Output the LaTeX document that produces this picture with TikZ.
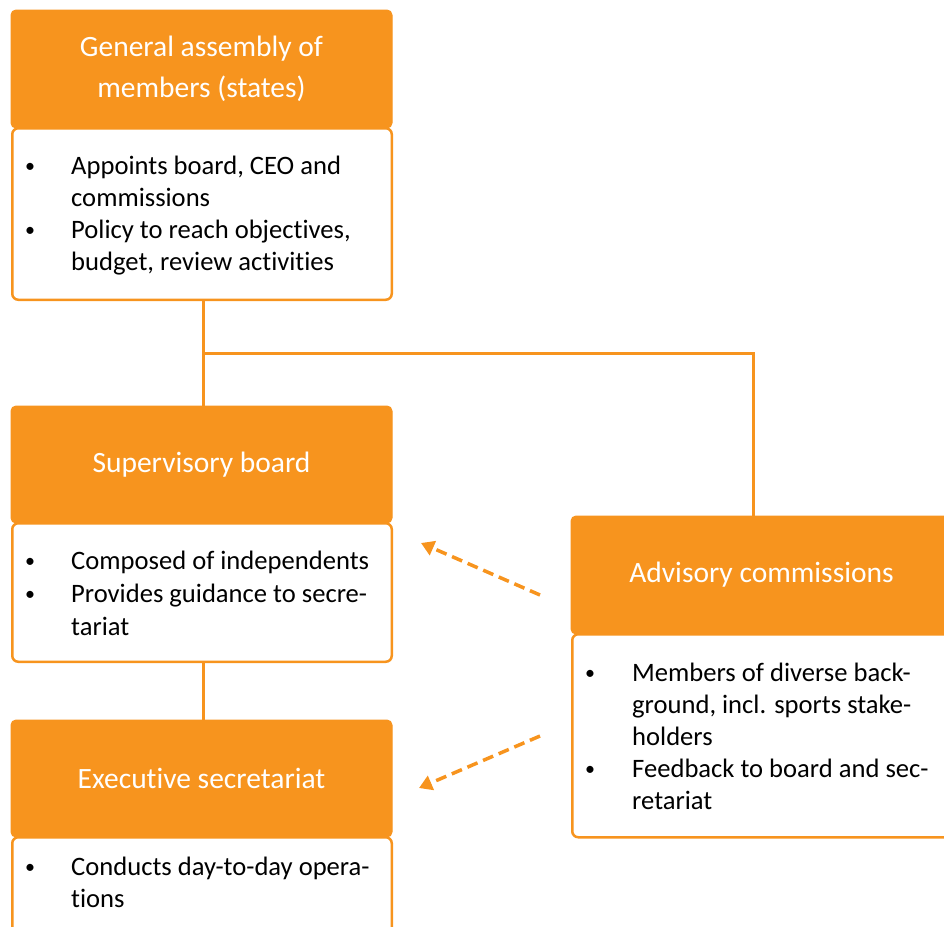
\documentclass[tikz,border=0pt]{standalone}
\usepackage{fontspec}
\setmainfont{Carlito}[Ligatures={NoCommon,NoRare,NoDiscretionary},Contextuals={NoAlternate}]
\usetikzlibrary{arrows.meta}
\definecolor{org}{HTML}{F7941E}
\begin{document}
\begin{tikzpicture}[x=1pt,y=-1pt,
  hdr/.style={fill=org, draw=org, line width=1pt, rounded corners=5pt, minimum width=381pt,
    text=white, font=\fontsize{29.5}{41}\selectfont, align=center, anchor=north west,
    inner sep=0pt, outer sep=0pt},
  bodybox/.style={fill=white, draw=org, line width=2.5pt, rounded corners=6pt,
    minimum width=379.5pt, anchor=north west, inner sep=0pt, outer sep=0pt},
  txt/.style={anchor=base west, inner sep=0pt, font=\fontsize{26.6}{32}\selectfont, text=black},
  bul/.style={anchor=base west, inner sep=0pt, font=\fontsize{20}{32}\selectfont, text=black},
  conn/.style={draw=org, line width=3pt},
  dasharrow/.style={draw=org, line width=3.5pt, dash pattern=on 11pt off 6pt,
    -{Triangle[length=13pt,width=15pt]}, shorten >=0pt}
]
\useasboundingbox (0,0) rectangle (944,926);
\clip (0,0) rectangle (944,926);

% General assembly
\node[hdr, minimum height=118pt] (gah) at (11,10) {General assembly of\\members (states)};
\node[bodybox, minimum height=171.5pt] (gab) at (12.25,128.25) {};
\node[bul] (ga1) at (25,172) {•};
\node[txt] (ga2) at (71,174) {Appoints board, CEO and};
\node[txt] (ga3) at (71,206) {commissions};
\node[bul] (ga4) at (25,236) {•};
\node[txt] (ga5) at (71,238) {Policy to reach objectives,};
\node[txt] (ga6) at (71,270) {budget, review activities};

% Supervisory board
\node[hdr, minimum height=117pt] (sbh) at (11,406) {Supervisory board};
\node[bodybox, minimum height=138.5pt] (sbb) at (12.25,523.25) {};
\node[bul] (sb1) at (25,567) {•};
\node[txt] (sb2) at (71,569) {Composed of independents};
\node[bul] (sb3) at (25,600) {•};
\node[txt] (sb4) at (71,602) {Provides guidance to secre-};
\node[txt] (sb5) at (71,635) {tariat};

% Executive secretariat
\node[hdr, minimum height=117pt] (esh) at (11,720) {Executive secretariat};
\node[bodybox, minimum height=160pt] (esb) at (12.25,837.25) {};
\node[bul] (es1) at (25,873) {•};
\node[txt] (es2) at (71,875) {Conducts day-to-day opera-};
\node[txt] (es3) at (71,907) {tions};

% Advisory commissions
\node[hdr, minimum height=118pt] (ach) at (571,516) {Advisory commissions};
\node[bodybox, minimum height=203pt] (acb) at (572.25,634.25) {};
\node[bul] (ac1) at (585,679) {•};
\node[txt] (ac2) at (632,681) {Members of diverse back-};
\node[txt] (ac3) at (632,713) {ground, incl. sports stake-};
\node[txt] (ac4) at (632,745) {holders};
\node[bul] (ac5) at (585,775) {•};
\node[txt] (ac6) at (632,777) {Feedback to board and sec-};
\node[txt] (ac7) at (632,809) {retariat};

% connectors
\coordinate (j) at (203,353);
\coordinate (actop) at (753,516);
\draw[conn] (203,300) coordinate (gabot) -- (203,406) coordinate (sbtop);
\draw[conn] (j) -| (actop);
\draw[conn] (203,662) coordinate (sbbot) -- (203,720) coordinate (estop);

\coordinate (a1s) at (540,595);
\coordinate (a1e) at (421,543);
\coordinate (a2s) at (540,736);
\coordinate (a2e) at (419,788);
\draw[dasharrow] (a1s) -- (a1e);
\draw[dasharrow] (a2s) -- (a2e);
\end{tikzpicture}
\end{document}
